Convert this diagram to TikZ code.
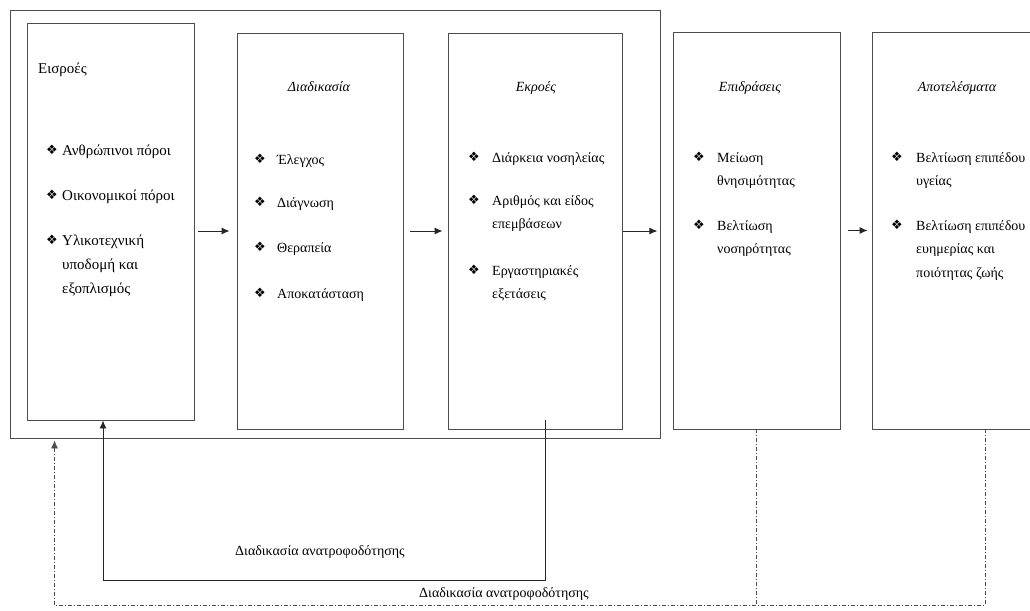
\documentclass[tikz,border=0pt]{standalone}
\usepackage{fontspec}
\setmainfont{Liberation Serif}
\newfontfamily\dingfont{DejaVu Sans}
\usetikzlibrary{arrows.meta}
\newcommand{\itemlines}[1]{\begin{tabular}[t]{@{}l@{}}#1\end{tabular}}

\begin{document}
\begin{tikzpicture}[x=1pt, y=-1pt,
    font=\fontsize{14}{23.5}\selectfont,
    box/.style={draw=black!70, line width=0.9pt, inner sep=0pt},
    txt/.style={anchor=base west, inner sep=0pt},
    head/.style={anchor=base, inner sep=0pt, font=\fontsize{14}{23.5}\selectfont\itshape},
    bul/.style={inner sep=0pt, font=\dingfont\fontsize{13}{13}\selectfont},
    flow/.style={-{Latex[length=8pt,width=7pt]}, line width=1pt, black!85},
    back/.style={black!70, line width=0.7pt, dash pattern=on 4pt off 2pt on 1pt off 2pt}]
    \useasboundingbox (0,0) rectangle (1030,610);

    % Draw boxes
    \node[box, minimum width=650, minimum height=428] (sys) at (335,224) {};
    \node[box, minimum width=167, minimum height=397] (in) at (110.5,221.5) {};
    \node[box, minimum width=166, minimum height=396] (proc) at (320,231) {};
    \node[box, minimum width=174, minimum height=396] (out) at (535,231) {};
    \node[box, minimum width=167, minimum height=397] (imp) at (756.5,230.5) {};
    \node[box, minimum width=168, minimum height=397] (res) at (956,230.5) {};

    % Draw titles
    \node[txt, font=\fontsize{15}{24}\selectfont] (in-title) at (38,74) {Εισροές};
    \node[head] (proc-title) at (319,92) {Διαδικασία};
    \node[head] (out-title) at (536,92) {Εκροές};
    \node[head] (imp-title) at (750,92) {Επιδράσεις};
    \node[head] (res-title) at (957,92) {Αποτελέσματα};

    % Draw items with bullets
    \foreach \y/\t in {155/Ανθρώπινοι πόροι, 200/Οικονομικοί πόροι, 245/{Υλικοτεχνική\\υποδομή και\\εξοπλισμός}} {
        \node[bul] (in-b\y) at (52,\y-5) {❖};
        \node[txt, font=\fontsize{15}{24}\selectfont] (in-\y) at (62,\y) {\itemlines{\t}};
    }
    \foreach \y/\t in {164/Έλεγχος, 207/Διάγνωση, 252/Θεραπεία, 298/Αποκατάσταση} {
        \node[bul] (proc-b\y) at (260,\y-5) {❖};
        \node[txt] (proc-\y) at (277,\y) {\itemlines{\t}};
    }
    \foreach \y/\t in {162/Διάρκεια νοσηλείας, 205/{Αριθμός και είδος\\επεμβάσεων}, 275/{Εργαστηριακές\\εξετάσεις}} {
        \node[bul] (out-b\y) at (474,\y-5) {❖};
        \node[txt] (out-\y) at (492,\y) {\itemlines{\t}};
    }
    \foreach \y/\t in {162/{Μείωση\\θνησιμότητας}, 230/{Βελτίωση\\νοσηρότητας}} {
        \node[bul] (imp-b\y) at (699,\y-5) {❖};
        \node[txt] (imp-\y) at (717,\y) {\itemlines{\t}};
    }
    \foreach \y/\t in {162/{Βελτίωση επιπέδου\\υγείας}, 230/{Βελτίωση επιπέδου\\ευημερίας και\\ποιότητας ζωής}} {
        \node[bul] (res-b\y) at (897,\y-5) {❖};
        \node[txt] (res-\y) at (916,\y) {\itemlines{\t}};
    }

    % Draw arrows between boxes
    \draw[flow, shorten <=4pt, shorten >=7pt] (in.east |- proc.west) -- (proc.west);
    \draw[flow, shorten <=7pt, shorten >=5pt] (proc.east) -- (out.west);
    \draw[flow, shorten <=1pt, shorten >=3pt] (out.east) -- (sys.east |- out.east);
    \draw[flow, shorten <=8pt, shorten >=4pt] (imp.east) -- (res.west);

    % Draw feedback loops
    \coordinate (fb-top) at ([xshift=10pt, yshift=9pt]out.south);
    \draw[flow, line width=0.9pt] (fb-top) -- ++(0,160) -| ([xshift=-7.5pt]in.south);
    \node (fb-label) at (320,552) {Διαδικασία ανατροφοδότησης};

    \draw[back] (imp.south) -- ++(0,176);
    \draw[back, -{Latex[length=8pt,width=7pt]}] ([xshift=29pt]res.south) -- ++(0,176)
        -| ([xshift=45pt, yshift=-2pt]sys.south west);
    \node (fb2-label) at (504,594) {Διαδικασία ανατροφοδότησης};
\end{tikzpicture}
\end{document}
